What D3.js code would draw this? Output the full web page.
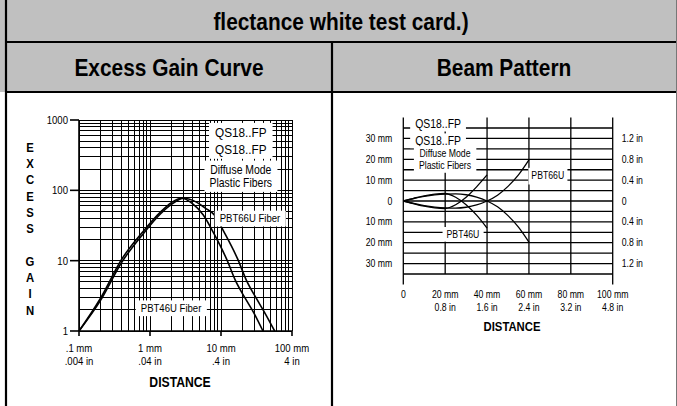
<!DOCTYPE html>
<html>
<head>
<meta charset="utf-8">
<script src="https://cdn.jsdelivr.net/npm/d3@7"></script>
<style>
  html, body { margin: 0; padding: 0; background: #fff; }
  svg { display: block; }
</style>
</head>
<body>
<div id="chart"></div>
<script>
// ---- data ----
// excess gain curve (distance in mm, excess gain)
const gainTicks = [1, 10, 100, 1000];
const distTicks = [0.1, 1, 10, 100];
const distMmLabels = [".1 mm", "1 mm", "10 mm", "100 mm"];
const distInLabels = [".004 in", ".04 in", ".4 in", "4 in"];

const pbt46Dist = [0.1, 0.2, 0.4, 0.8, 1.4, 2.0, 2.8, 4.0, 5.6, 8, 12, 16, 22, 30, 39];
const pbt46Gain = [1, 2.9, 10.5, 26, 49, 67, 77, 64, 45, 24, 10.5, 5.2, 2.9, 1.7, 1];
const pbt66Dist = [0.1, 0.2, 0.4, 0.8, 1.4, 2.0, 3.0, 4.5, 6, 8, 11.4, 17.2, 22.9, 31.5, 42.9, 57];
const pbt66Gain = [1, 2.7, 9.5, 24, 46, 63, 77, 68, 56, 45, 24, 10.5, 5.2, 2.9, 1.7, 1];

// beam pattern (distance in mm, lateral offset in mm)
const beamYTicks = [30, 20, 10, 0, -10, -20, -30];
const beamYMm = ["30 mm", "20 mm", "10 mm", "0", "10 mm", "20 mm", "30 mm"];
const beamYIn = ["1.2 in", "0.8 in", "0.4 in", "0", "0.4 in", "0.8 in", "1.2 in"];
const beamXTicks = [0, 20, 40, 60, 80, 100];
const beamXMm = ["0", "20 mm", "40 mm", "60 mm", "80 mm", "100 mm"];
const beamXIn = ["", "0.8 in", "1.6 in", "2.4 in", "3.2 in", "4.8 in"];

const beam46X = [0, 5, 10, 15, 20, 25, 30, 35, 40];
const beam46Upper = [0, 1.3, 2.5, 3.3, 3.6, 1.8, -1.8, -6.8, -13];
const beam46Lower = [0, -1.3, -2.5, -3.3, -3.6, -1.8, 1.8, 6.8, 12.5];
const beam66X = [0, 5, 10, 15, 20, 25, 30, 35, 40, 45, 50, 55, 60];
const beam66Upper = [0, 1.2, 2.2, 2.9, 3.3, 3.4, 3.0, 1.9, 0, -2.8, -7.0, -12.5, -19.7];
const beam66Lower = [0, -1.2, -2.2, -2.9, -3.3, -3.4, -3.0, -1.9, 0, 2.8, 7.0, 12.5, 19.7];

// ---- page ----
const W = 677, H = 406;
const SX = 0.87;   // the source text is a little narrow
const FONT = "'Liberation Sans', Arial, Helvetica, sans-serif";
const GREY = "#c0c0c0";

const svg = d3.select("#chart").append("svg")
    .attr("width", W)
    .attr("height", H)
    .style("font-family", FONT);

svg.append("rect").attr("width", W).attr("height", H).attr("fill", "#fff");

// text with its centre line at y (cap middle)
function label(g, x, y, s, size, opts) {
    opts = opts || {};
    return g.append("text")
        .attr("transform", `translate(${x},${y + size * 0.36}) scale(${SX},1)`)
        .attr("text-anchor", opts.anchor || "middle")
        .style("font-size", size + "px")
        .style("font-weight", opts.bold ? "bold" : "normal")
        .attr("fill", "#000")
        .text(s);
}

// white box behind a text
function boxed(g, x, y, lines, size, lead, padX, padY) {
    let grp = g.append("g");
    let rect = grp.append("rect").attr("fill", "#fff");
    lines.forEach(function(s, i) {
        label(grp, x, y + i * lead, s, size);
    });
    let bb = grp.node().getBBox();
    rect.attr("x", bb.x - padX).attr("y", bb.y - padY)
        .attr("width", bb.width + 2 * padX).attr("height", bb.height + 2 * padY);
    return grp;
}

// ---- table frame ----
svg.append("rect").attr("x", 0).attr("y", 0).attr("width", W).attr("height", 92).attr("fill", GREY);
const frame = svg.append("g").attr("stroke", "#000").attr("stroke-width", 2.2);
frame.append("line").attr("x1", 6).attr("x2", W).attr("y1", 42).attr("y2", 42);
frame.append("line").attr("x1", 6).attr("x2", W).attr("y1", 92).attr("y2", 92);
frame.append("line").attr("x1", 6).attr("x2", 6).attr("y1", 0).attr("y2", H);
frame.append("line").attr("x1", 332).attr("x2", 332).attr("y1", 42).attr("y2", H);
svg.append("line").attr("x1", 676.5).attr("x2", 676.5).attr("y1", 0).attr("y2", H)
    .attr("stroke", "#777").attr("stroke-width", 1);

label(svg, 341, 21, "flectance white test card.)", 24, {bold: true});
label(svg, 169, 67, "Excess Gain Curve", 24, {bold: true});
label(svg, 504, 67, "Beam Pattern", 24, {bold: true});

// ---- excess gain curve ----
const xL = d3.scaleLog().domain([0.1, 100]).range([79, 292]);
const yL = d3.scaleLog().domain([1, 1000]).range([331, 120]);
const gL = svg.append("g");

const gridL = gL.append("g").attr("stroke", "#000").attr("stroke-width", 1)
    .attr("shape-rendering", "crispEdges");
gridL.selectAll(".vx").data(xL.ticks()).enter().append("line")
    .attr("x1", d => xL(d)).attr("x2", d => xL(d))
    .attr("y1", yL(1000)).attr("y2", yL(1));
gridL.selectAll(".hy").data(yL.ticks()).enter().append("line")
    .attr("x1", xL(0.1)).attr("x2", xL(100))
    .attr("y1", d => yL(d)).attr("y2", d => yL(d));

// axes
const axL = gL.append("g").attr("stroke", "#000").attr("stroke-width", 1.6);
axL.append("line").attr("x1", xL(0.1)).attr("x2", xL(0.1)).attr("y1", yL(1000)).attr("y2", yL(1));
axL.append("line").attr("x1", xL(0.1)).attr("x2", xL(100)).attr("y1", yL(1)).attr("y2", yL(1));
axL.selectAll(".ty").data(gainTicks).enter().append("line")
    .attr("x1", xL(0.1) - 9).attr("x2", xL(0.1)).attr("y1", d => yL(d)).attr("y2", d => yL(d));
axL.selectAll(".tx").data(distTicks).enter().append("line")
    .attr("x1", d => xL(d)).attr("x2", d => xL(d)).attr("y1", yL(1)).attr("y2", yL(1) + 5);

gainTicks.forEach(function(v) {
    label(gL, xL(0.1) - 11, yL(v), String(v), 11, {anchor: "end"});
});
distTicks.forEach(function(v, i) {
    label(gL, xL(v), 348, distMmLabels[i], 11);
    label(gL, xL(v), 361.5, distInLabels[i], 11);
});
label(gL, 180, 382, "DISTANCE", 14, {bold: true});
"EXCESS GAIN".split("").forEach(function(c, i) {
    if (c !== " ") label(gL, 30, 147 + i * 16.3, c, 13, {bold: true});
});

// curves
const lineL = d3.line().x(d => xL(d[0])).y(d => yL(d[1])).curve(d3.curveMonotoneX);
[[pbt46Dist, pbt46Gain], [pbt66Dist, pbt66Gain]].forEach(function(s) {
    gL.append("path")
        .datum(d3.zip(s[0], s[1]))
        .attr("fill", "none").attr("stroke", "#000").attr("stroke-width", 1.6)
        .attr("d", lineL);
});

// annotations
boxed(gL, xL(19), yL(680), ["QS18..FP"], 13.5, 0, 6, 2);
boxed(gL, xL(19), yL(390), ["QS18..FP"], 13.5, 0, 6, 2);
boxed(gL, xL(19), yL(195), ["Diffuse Mode", "Plastic Fibers"], 12, 12.5, 5, 3);
boxed(gL, xL(25.6), yL(40), ["PBT66U Fiber"], 11, 0, 5, 2);
boxed(gL, xL(1.98), yL(2.12), ["PBT46U Fiber"], 11, 0, 5, 2);

// ---- beam pattern ----
const xR = d3.scaleLinear().domain([0, 100]).range([403.3, 612.7]);
const yR = d3.scaleLinear().domain([-40, 40]).range([284.4, 117.6]);
const gR = svg.append("g");

const gridR = gR.append("g").attr("stroke", "#000").attr("stroke-width", 1.3);
gridR.selectAll(".hy").data(d3.range(-35, 36, 5)).enter().append("line")
    .attr("x1", xR(0)).attr("x2", xR(100))
    .attr("y1", d => yR(d)).attr("y2", d => yR(d));
gridR.selectAll(".vx").data(beamXTicks).enter().append("line")
    .attr("x1", d => xR(d)).attr("x2", d => xR(d))
    .attr("y1", yR(40)).attr("y2", d => (d === 0 || d === 100) ? yR(-40) : yR(-35));

beamYTicks.forEach(function(v, i) {
    label(gR, xR(0) - 11, yR(v), beamYMm[i], 10, {anchor: "end"});
    label(gR, xR(100) + 9, yR(v), beamYIn[i], 10, {anchor: "start"});
});
beamXTicks.forEach(function(v, i) {
    label(gR, xR(v), 294, beamXMm[i], 10);
    if (beamXIn[i]) label(gR, xR(v), 307.5, beamXIn[i], 10);
});
label(gR, 512, 326, "DISTANCE", 13, {bold: true});

const lineR = d3.line().x(d => xR(d[0])).y(d => yR(d[1])).curve(d3.curveMonotoneX);
[[beam46X, beam46Upper], [beam46X, beam46Lower], [beam66X, beam66Upper], [beam66X, beam66Lower]]
    .forEach(function(s) {
        gR.append("path")
            .datum(d3.zip(s[0], s[1]))
            .attr("fill", "none").attr("stroke", "#000").attr("stroke-width", 1.3)
            .attr("d", lineR);
    });

boxed(gR, xR(16.6), yR(36.9), ["QS18..FP"], 12, 0, 5, 1);
boxed(gR, xR(16.6), yR(28.9), ["QS18..FP"], 12, 0, 5, 1);
boxed(gR, xR(19.9), yR(23.0), ["Diffuse Mode", "Plastic Fibers"], 10, 12, 5, 2);
boxed(gR, xR(69), yR(12.1), ["PBT66U"], 10, 0, 3, 3);
boxed(gR, xR(28.5), yR(-15.8), ["PBT46U"], 10, 0, 4, 2);
</script>
</body>
</html>
